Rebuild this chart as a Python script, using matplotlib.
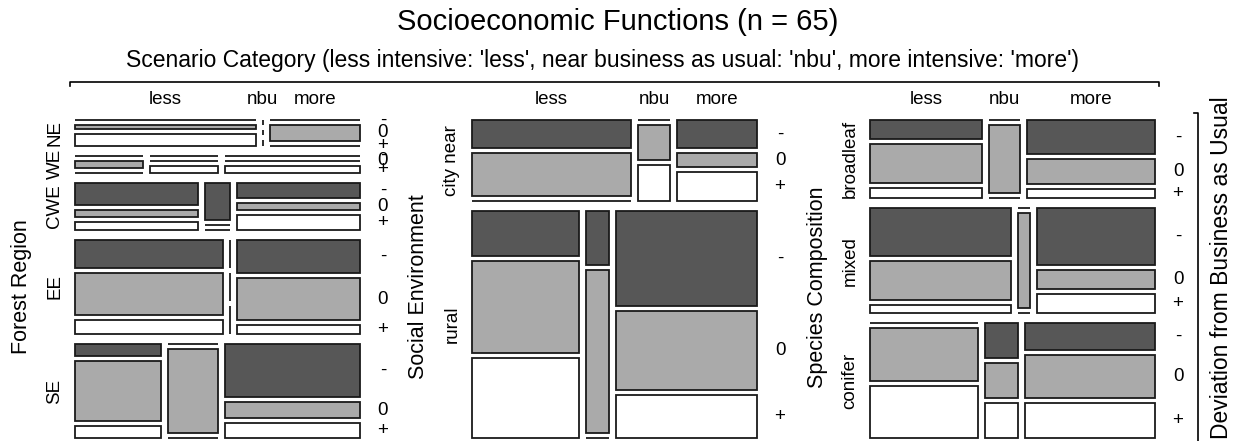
import numpy as np
import matplotlib.pyplot as plt
from matplotlib.patches import Rectangle

plt.rcParams['font.family'] = ['Liberation Sans', 'DejaVu Sans']

# data: counts per row level x scenario (less, nbu, more) x deviation (-, 0, +)
scenarios = ['less', 'nbu', 'more']
deviation = ['-', '0', '+']

region_levels = ['NE', 'WE', 'CWE', 'EE', 'SE']
region_counts = [[[0, 1, 3], [0, 0, 0], [0, 2, 0]],
                 [[0, 1, 0], [0, 0, 1], [0, 0, 2]],
                 [[3, 1, 1], [1, 0, 0], [2, 1, 2]],
                 [[4, 6, 2], [0, 0, 0], [4, 5, 1]],
                 [[1, 5, 1], [0, 4, 0], [7, 2, 2]]]

social_levels = ['city near', 'rural']
social_counts = [[[4, 6, 0], [0, 1, 1], [2, 1, 2]],
                 [[4, 8, 7], [1, 3, 0], [11, 9, 5]]]

species_levels = ['broadleaf', 'mixed', 'conifer']
species_counts = [[[2, 4, 1], [0, 2, 0], [4, 3, 1]],
                  [[6, 5, 1], [0, 1, 0], [6, 2, 2]],
                  [[0, 5, 5], [1, 1, 1], [3, 5, 4]]]

panels = [('Forest Region', region_levels, region_counts),
          ('Social Environment', social_levels, social_counts),
          ('Species Composition', species_levels, species_counts)]

fills = ['#575757', '#aaaaaa', '#ffffff']

fig = plt.figure(figsize=(12.36, 4.41), dpi=100)
ax = fig.add_axes([0, 0, 1, 1])
ax.set_xlim(0, 1236)
ax.set_ylim(441, 0)
ax.axis('off')

lw = 1.3
panel_x = [75, 472, 870]
W, top, H = 285, 120, 318
g_row, g_col, g_dev = 10, 7, 5

for (name, levels, counts), x0 in zip(panels, panel_x):
    counts = np.array(counts, dtype=float)
    n = counts.sum()
    R = len(levels)
    row_tot = counts.sum(axis=(1, 2))
    row_h = (H - (R - 1) * g_row) * row_tot / n
    y = top
    for r in range(R):
        h = row_h[r]
        col_tot = counts[r].sum(axis=1)
        col_w = (W - 2 * g_col) * col_tot / row_tot[r]
        x = x0
        for c in range(3):
            w = col_w[c]
            if col_tot[c] > 0:
                dev_h = (h - 2 * g_dev) * counts[r, c] / col_tot[c]
            else:
                dev_h = np.full(3, (h - 2 * g_dev) / 3)
            yy = y
            centers = []
            for d in range(3):
                dh = dev_h[d]
                if w > 0 and dh > 0:
                    ax.add_patch(Rectangle((x, yy), w, dh, facecolor=fills[d],
                                           edgecolor='#1a1a1a', lw=lw))
                elif w > 0:
                    ax.plot([x, x + w], [yy, yy], color='#1a1a1a', lw=lw,
                            solid_capstyle='butt')
                else:
                    ax.plot([x, x], [yy, yy + dh], color='#1a1a1a', lw=lw,
                            solid_capstyle='butt')
                centers.append(yy + dh / 2)
                yy += dh + g_dev
            if r == 0:
                ax.text(x + w / 2, 100, scenarios[c], ha='center', va='center',
                        fontsize=13.5)
            if c == 2:
                for d in range(3):
                    ax.text(x0 + W + 23, centers[d], deviation[d], ha='center',
                            va='center', fontsize=13.5)
            x += w + g_col
        ax.text(x0 - 20, y + h / 2, levels[r], ha='center', va='center',
                rotation=90, fontsize=13.5)
        y += h + g_row
    ax.text(x0 - 53, top + H / 2 + 8, name, ha='center', va='center',
            rotation=90, fontsize=15.5)

ax.text(618, 22, 'Socioeconomic Functions (n = 65)', ha='center', va='center',
        fontsize=21)
ax.text(602, 60, "Scenario Category (less intensive: 'less', near business as usual: "
        "'nbu', more intensive: 'more')", ha='center', va='center', fontsize=16.5)
ax.plot([70, 70, 1159, 1159], [86, 82, 82, 86], color='black', lw=1.2)
ax.plot([1194, 1198, 1198], [113, 113, 445], color='black', lw=1.2)
ax.text(1222, 268, 'Deviation from Business as Usual', ha='center', va='center',
        rotation=90, fontsize=16.5)

fig.savefig('out.png', dpi=100)
